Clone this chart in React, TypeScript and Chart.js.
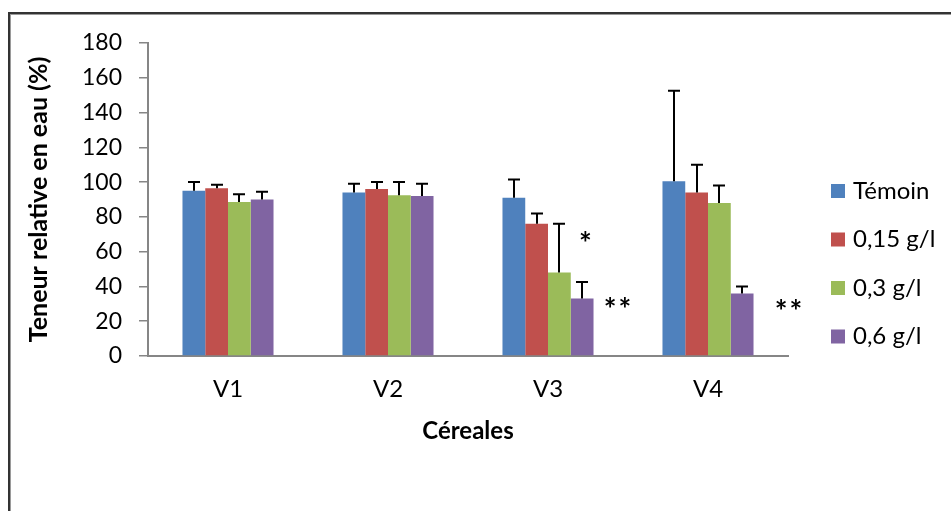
import React, { useEffect, useRef } from 'react';
import { Chart, registerables } from 'chart.js';

Chart.register(...registerables);

const categories = ['V1', 'V2', 'V3', 'V4'];
const seriesLabels = ['Témoin', '0,15 g/l', '0,3 g/l', '0,6 g/l'];
const seriesColors = ['#4F81BD', '#C0504D', '#9BBB59', '#8064A2'];

const temoin = [95, 94, 91, 100.5];
const temoinErr = [5, 5, 10.5, 52];
const dose015 = [96.5, 96, 76, 94];
const dose015Err = [2, 4, 6, 16];
const dose03 = [88.5, 92.5, 48, 88];
const dose03Err = [4.5, 7.5, 28, 10];
const dose06 = [90, 92, 33, 36];
const dose06Err = [4.5, 7, 9.5, 4];

const yMin = 0;
const yMax = 180;
const yStep = 20;

// significance markers: x as fractional category index, y as value
const markerText = ['*', '**', '**'];
const markerX = [2.24, 2.44, 3.51];
const markerY = [68, 30.5, 29];

const FONT = 'Lato, "Open Sans", sans-serif';

const errorBarPlugin = {
  id: 'errorBars',
  afterDatasetsDraw(chart: any) {
    const ctx = chart.ctx;
    const y = chart.scales.y;
    ctx.save();
    ctx.strokeStyle = '#000';
    ctx.lineWidth = 2;
    chart.data.datasets.forEach((ds: any, i: number) => {
      const meta = chart.getDatasetMeta(i);
      meta.data.forEach((bar: any, j: number) => {
        const v = ds.data[j];
        const e = ds.errors[j];
        const y0 = y.getPixelForValue(v);
        const y1 = y.getPixelForValue(v + e);
        const x = Math.round(bar.x);
        ctx.beginPath();
        ctx.moveTo(x, y0);
        ctx.lineTo(x, y1);
        ctx.moveTo(x - 6, y1);
        ctx.lineTo(x + 6, y1);
        ctx.stroke();
      });
    });
    ctx.restore();
  },
};

const markerPlugin = {
  id: 'sigMarkers',
  afterDatasetsDraw(chart: any) {
    const ctx = chart.ctx;
    const xs = chart.scales.x;
    const ys = chart.scales.y;
    ctx.save();
    ctx.fillStyle = '#000';
    ctx.font = `bold 30px ${FONT}`;
    ctx.textAlign = 'center';
    ctx.textBaseline = 'middle';
    (ctx as any).letterSpacing = '2px';
    markerText.forEach((t, i) => {
      const px = xs.getPixelForValue(markerX[i]);
      const py = ys.getPixelForValue(markerY[i]);
      ctx.fillText(t, px, py + 7);
    });
    ctx.restore();
  },
};

const legendPlugin = {
  id: 'sideLegend',
  afterDraw(chart: any) {
    const ctx = chart.ctx;
    ctx.save();
    ctx.font = `24px ${FONT}`;
    ctx.textBaseline = 'middle';
    ctx.textAlign = 'left';
    chart.data.datasets.forEach((ds: any, i: number) => {
      const cy = 191 + i * 48.5;
      ctx.fillStyle = ds.backgroundColor;
      ctx.fillRect(831, cy - 7, 14, 14);
      ctx.fillStyle = '#000';
      ctx.fillText(ds.label, 853, cy);
    });
    ctx.restore();
  },
};

export default function App() {
  const ref = useRef<HTMLCanvasElement>(null);

  useEffect(() => {
    let chart: Chart | null = null;
    let cancelled = false;
    const build = () => {
      if (cancelled || !ref.current) return;
      const values = [temoin, dose015, dose03, dose06];
      const errors = [temoinErr, dose015Err, dose03Err, dose06Err];
      chart = new Chart(ref.current, {
        type: 'bar',
        data: {
          labels: categories,
          datasets: seriesLabels.map((label, i) => ({
            label,
            data: values[i],
            errors: errors[i],
            backgroundColor: seriesColors[i],
            borderWidth: 0,
            barPercentage: 1,
            categoryPercentage: 0.569,
          })) as any,
        },
        options: {
          animation: false,
          responsive: false,
          layout: { padding: { left: 0, right: 163, top: 43, bottom: 0 } },
          plugins: {
            legend: { display: false },
            tooltip: { enabled: false },
          },
          scales: {
            x: {
              grid: { display: false, drawTicks: false },
              border: { display: true, color: '#868686', width: 2 },
              ticks: {
                color: '#000',
                font: { family: FONT, size: 24 },
                padding: 19,
              },
              title: {
                display: true,
                text: 'Céreales',
                color: '#000',
                font: { family: FONT, size: 24, weight: 'bold' },
                padding: { top: 0, bottom: 65 },
              },
              afterFit(scale: any) {
                scale.height = 155;
              },
            },
            y: {
              min: yMin,
              max: yMax,
              grid: {
                drawOnChartArea: false,
                drawTicks: true,
                tickLength: 9,
                color: '#868686',
                lineWidth: 1.5,
              },
              border: { display: true, color: '#868686', width: 2 },
              ticks: {
                stepSize: yStep,
                color: '#000',
                font: { family: FONT, size: 23 },
                padding: 17,
              },
              title: {
                display: true,
                text: 'Teneur relative en eau (%)',
                color: '#000',
                font: { family: FONT, size: 25, weight: 'bold' },
                padding: { top: 24, bottom: 0 },
              },
              afterFit(scale: any) {
                scale.width = 148;
              },
            },
          },
        } as any,
        plugins: [errorBarPlugin, markerPlugin, legendPlugin],
      });
    };
    const fonts = (document as any).fonts;
    if (fonts && fonts.load) {
      Promise.all([
        fonts.load(`22px Lato`),
        fonts.load(`bold 22px Lato`),
      ]).then(build, build);
    } else {
      build();
    }
    return () => {
      cancelled = true;
      if (chart) chart.destroy();
    };
  }, []);

  return (
    <div style={{ position: 'fixed', left: 0, top: 0, width: 951, height: 511, background: '#fff', overflow: 'hidden' }}>
      <div
        style={{
          position: 'absolute',
          left: 8,
          top: 12,
          width: 1000,
          height: 600,
          borderTop: '2px solid #333',
          borderLeft: '2px solid #333',
          boxShadow: 'inset 1px 1px 0 #9a9a9a',
        }}
      />
      <canvas ref={ref} width={951} height={511} style={{ position: 'absolute', left: 0, top: 0, width: 951, height: 511 }} />
    </div>
  );
}
